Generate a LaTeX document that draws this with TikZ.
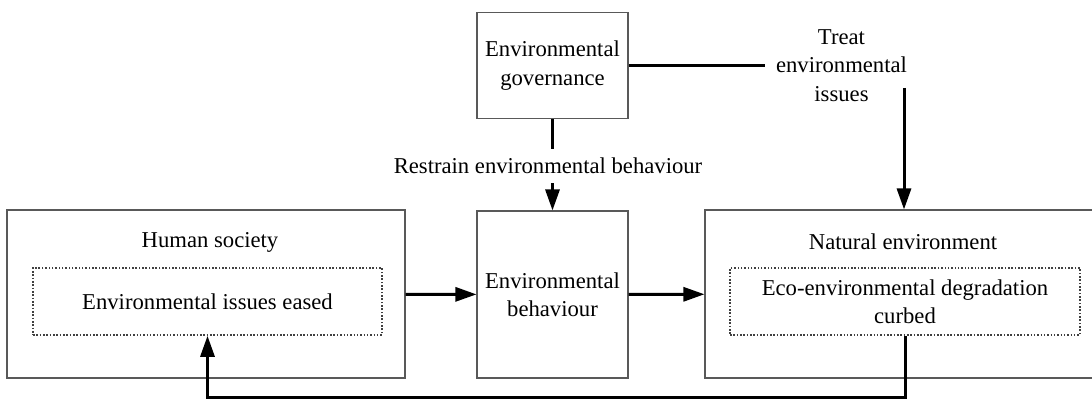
\documentclass[tikz,border=0pt]{standalone}
\usepackage{fontspec}
\setmainfont{Liberation Serif}
\usepackage{tikz}
\usetikzlibrary{arrows.meta}

\begin{document}
\begin{tikzpicture}[> = {Triangle[length=4.2mm,width=2.8mm]}, % arrow head style
	line width=1.7pt, % connector style
	font=\fontsize{12.9}{16.2}\selectfont,
	blockbox/.style={draw=black!65,line width=0.6pt,align=center,inner sep=0pt},
	innerbox/.style={draw=black!75,line width=0.9pt,densely dotted,align=center,inner sep=0pt},
	lbl/.style={align=center,inner sep=0pt}]
	\useasboundingbox (0,0) rectangle (21.84,-7.98);

	\node[blockbox,minimum width=3.02cm,minimum height=2.12cm] (gov) at (11.05,-1.31) {Environmental\\governance};
	\node[blockbox,minimum width=3.02cm,minimum height=3.34cm] (behav) at (11.05,-5.89) {Environmental\\behaviour};
	\node[blockbox,minimum width=7.96cm,minimum height=3.36cm] (human) at (4.12,-5.88) {};
	\node[blockbox,minimum width=7.96cm,minimum height=3.36cm] (natural) at (18.08,-5.88) {};

	\node[lbl] (humanlbl) at (4.2,-4.84) {Human society};
	\node[lbl] (naturallbl) at (18.06,-4.84) {Natural environment};
	\node[innerbox,minimum width=6.98cm,minimum height=1.34cm] (inL) at (4.15,-6.03) {Environmental issues eased};
	\node[innerbox,minimum width=7.0cm,minimum height=1.34cm] (inR) at (18.1,-6.03) {Eco-environmental degradation\\curbed};

	\node[lbl,inner ysep=0.16cm] (restrain) at (10.96,-3.32) {Restrain environmental behaviour};
	\node[lbl,inner xsep=0.2cm] (treat) at (16.83,-1.31) {Treat\\environmental\\issues};
	\coordinate (tdown) at (18.08,-1.76);
	\coordinate (fb) at (0,-7.95);

	\draw (gov.south) -- (gov.south |- restrain.north);
	\draw[->] (behav.north |- restrain.south) -- (behav.north);
	\draw[line width=1.7pt] (gov.east) -- (gov.east -| treat.west);
	\draw[->] (tdown) -- (tdown |- natural.north);
	\draw[->] (human) -- (behav);
	\draw[->] (behav) -- (natural);
	\draw[->] (inR.south) -- (inR.south |- fb) -| (inL.south);

\end{tikzpicture}
\end{document}
